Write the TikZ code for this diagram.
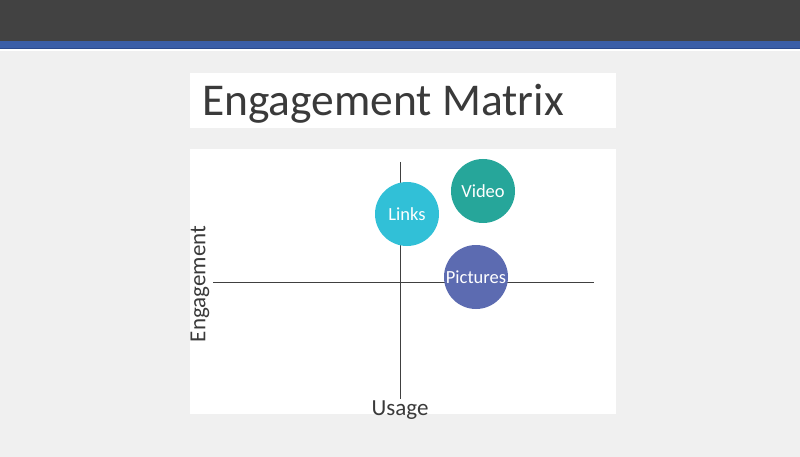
\documentclass[tikz,border=0pt]{standalone}
\usepackage{fontspec}
\setmainfont{Carlito}
\definecolor{bgc}{HTML}{F0F0F0}
\definecolor{topbar}{HTML}{424242}
\definecolor{blueband}{HTML}{3B5EA7}
\definecolor{bluedark}{HTML}{2C4A8C}
\definecolor{cLinks}{HTML}{31C0D7}
\definecolor{cVideo}{HTML}{26A69A}
\definecolor{cPict}{HTML}{5C6BB1}
\definecolor{txt}{HTML}{3A3A3A}
\tikzset{
  bubble/.style={circle, minimum size=64pt, inner sep=0pt, text=white, font=\fontsize{18.5}{21}\selectfont},
  axis/.style={line width=1pt, draw=black!75},
  panel/.style={fill=white, draw=none},
  axlabel/.style={font=\fontsize{23}{26}\selectfont, text=txt, inner sep=0pt},
}
\begin{document}
\begin{tikzpicture}[x=1pt,y=-1pt]
\useasboundingbox (0,0) rectangle (800,457);
\fill[bgc] (0,0) rectangle (800,457);
\fill[topbar] (0,0) rectangle (800,41);
\fill[blueband] (0,41) rectangle (800,49);
\fill[bluedark] (0,48) rectangle (800,49.5);
\fill[white] (0,49.5) rectangle (800,51);
% title panel
\fill[panel] (190,73) rectangle (616,128);
\node[anchor=base west, inner sep=0pt, text=txt, font=\fontsize{45.5}{50}\selectfont] (title) at (202,116) {Engagement Matrix};
% chart panel
\fill[panel] (190,149) rectangle (616,414);
\coordinate (hl) at (213,282);
\coordinate (hr) at (594,282);
\coordinate (vt) at (400,162);
\coordinate (vb) at (400,399);
\draw[axis] (hl) -- (hr);
\draw[axis] (vt) -- (vb);
\node[bubble, fill=cLinks] (links) at (407,214) {Links};
\node[bubble, fill=cVideo] (video) at (483,191) {Video};
\node[bubble, fill=cPict] (pict) at (476,277) {Pictures};
\node[axlabel, anchor=base] (usage) at (400,415) {Usage};
\node[axlabel, rotate=90] (eng) at (200,284) {Engagement};
\end{tikzpicture}
\end{document}
